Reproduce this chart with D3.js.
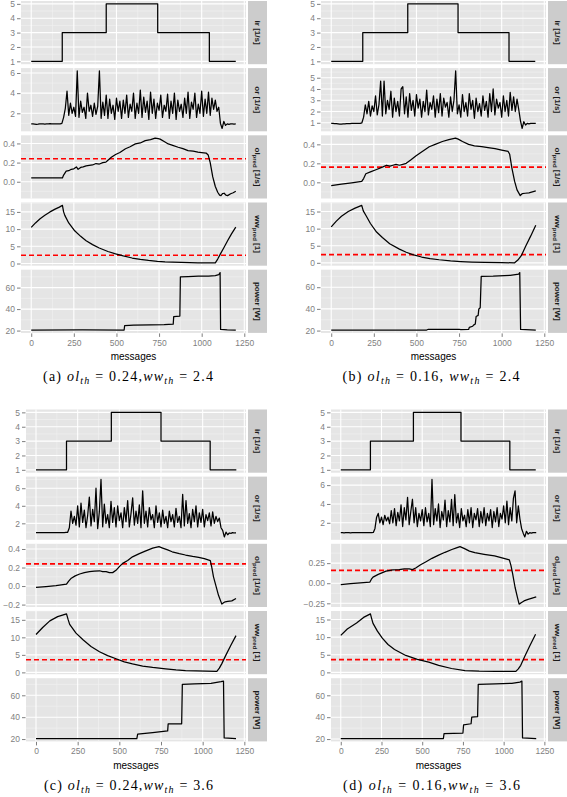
<!DOCTYPE html>
<html><head><meta charset="utf-8">
<script src="https://cdn.jsdelivr.net/npm/d3@7/dist/d3.min.js"></script>
<style>body{margin:0;background:#fff}</style>
</head><body>
<svg id="c" width="567" height="797"></svg>
<script>
// ---------------- DATA ----------------
const xTicks = [0, 250, 500, 750, 1000, 1250];
const stripLabels = [["ir", "", " [1/s]"], ["or", "", " [1/s]"], ["ol", "pred", " [1/s]"], ["ww", "pred", " [1]"], ["power", "", " [W]"]];
const orStep = 10; // "or" sampled every 10 messages

// input rate (step changes)
const irA = [[0,1],[182,3],[440,5],[742,3],[1045,1],[1200,1]];
const irB = [[0,1],[185,3],[449,5],[744,3],[1043,1],[1197,1]];
const irC = [[0,1],[183,3],[452,5],[750,3],[1045,1],[1202,1]];
const irD = [[0,1],[182,3],[446,5],[738,3],[1038,1],[1197,1]];

// output rate
const orA = [
 0.95,0.95,0.93,0.9,0.92,0.95,0.95,0.95,0.93,0.95,
 0.95,0.97,0.95,0.95,0.95,0.95,0.95,0.96,1.0,1.6,
 2.5,4.2,1.8,3.0,2.0,2.6,1.7,6.2,1.6,3.2,
 2.1,2.6,1.5,4.0,2.2,2.8,1.7,3.0,1.9,2.7,
 6.2,1.5,3.1,1.8,3.8,1.5,3.4,2.0,2.8,1.4,
 3.5,2.2,3.2,1.5,3.3,2.0,3.8,1.6,2.9,2.2,
 4.0,1.5,3.0,2.0,4.3,1.6,3.6,2.1,3.2,1.4,
 4.1,2.0,3.4,1.5,3.0,2.3,3.8,1.6,2.8,2.2,
 3.9,1.5,3.2,2.0,4.0,1.4,3.3,2.2,2.9,1.6,
 3.5,2.0,4.1,1.5,3.1,2.4,4.0,1.6,2.9,2.0,
 4.2,1.7,3.4,2.0,4.1,1.8,3.5,2.4,3.3,2.2,
 2.6,1.0,0.5,1.2,0.8,0.95,0.9,0.95,0.95,0.93,
 0.95];
const orB = [
 0.95,0.95,0.93,0.92,0.9,0.88,0.88,0.9,0.9,0.92,
 0.92,0.93,0.95,0.95,0.95,0.95,0.95,0.95,1.0,1.5,
 2.6,1.8,2.9,1.6,2.5,2.0,3.4,1.7,2.6,4.7,
 1.6,4.7,1.8,3.0,2.2,3.8,1.5,3.2,2.0,2.9,
 1.6,4.0,4.2,1.8,3.3,1.5,3.6,2.1,3.0,1.6,
 3.5,2.3,3.1,1.5,2.9,2.0,3.9,1.7,2.8,2.2,
 3.4,1.5,3.1,1.9,3.6,1.6,3.2,2.4,2.8,1.5,
 3.3,2.0,3.0,5.6,1.8,2.6,1.5,3.5,2.0,2.8,
 1.6,3.6,2.2,3.0,1.4,3.2,2.0,2.7,1.6,3.4,
 2.1,2.9,1.5,3.6,2.0,4.0,1.7,3.1,2.3,2.8,
 1.5,3.4,2.0,3.0,1.6,3.7,2.1,3.3,2.0,3.1,
 2.2,1.2,0.5,1.1,0.8,0.95,0.9,0.95,0.95,0.95,
 0.95];
const orC = [
 0.95,0.95,0.95,0.95,0.93,0.95,0.95,0.95,0.95,0.93,
 0.95,0.95,0.95,0.95,0.95,0.95,0.95,0.95,0.97,0.98,
 1.5,3.4,2.0,2.8,1.8,4.0,1.6,4.3,2.1,3.5,
 1.5,2.9,5.0,1.7,3.6,2.2,6.0,1.4,3.3,7.0,
 1.6,4.2,2.0,3.0,1.5,4.5,2.1,3.8,1.6,4.0,
 2.3,3.2,1.5,3.8,2.2,4.6,1.6,3.1,4.9,1.8,
 3.4,2.0,4.1,1.5,5.7,2.0,3.4,1.6,3.8,2.4,
 3.0,1.5,4.0,2.1,3.2,1.6,3.5,2.0,2.8,1.5,
 3.4,2.2,3.0,1.6,3.7,2.1,2.8,1.5,5.3,1.7,
 4.6,2.0,3.1,1.5,3.6,2.2,4.0,1.6,3.2,2.1,
 3.6,1.6,3.0,2.3,3.2,1.7,3.3,2.0,2.8,2.2,
 2.6,1.5,1.2,0.45,1.0,0.7,0.9,0.85,0.95,0.9,
 0.9];
const orD = [
 0.95,0.95,0.93,0.95,0.95,0.95,0.93,0.95,0.95,0.95,
 0.95,0.95,0.95,0.95,0.95,0.95,0.95,0.95,0.95,0.95,
 0.97,1.4,2.6,3.0,2.0,2.6,1.8,2.8,2.2,2.6,
 1.9,3.3,2.0,3.5,1.7,3.1,2.2,3.9,1.6,3.6,
 2.3,4.7,1.8,3.2,4.5,2.0,3.6,1.6,3.0,2.2,
 3.4,1.7,3.6,2.1,3.0,1.6,6.6,1.8,3.5,2.2,
 4.0,1.5,3.2,2.3,4.4,1.6,3.3,2.1,4.5,1.7,
 5.0,2.0,3.0,1.5,3.5,2.2,2.8,1.6,3.4,2.0,
 3.6,1.5,3.0,2.3,3.5,1.6,3.2,2.0,3.6,1.7,
 3.0,2.2,3.4,1.5,3.2,2.1,3.6,1.6,3.0,2.4,
 3.8,2.0,4.3,1.8,3.6,2.2,4.6,5.4,2.0,3.8,
 2.4,1.4,0.9,0.5,1.1,0.8,0.95,0.9,0.95,0.95,
 0.95];

// predicted overload
const olA = [[0,0.04],[183,0.04],[190,0.07],[205,0.11],[220,0.115],[235,0.13],[250,0.135],[265,0.155],[275,0.13],[290,0.15],[305,0.155],[322,0.165],[340,0.17],[360,0.175],[380,0.19],[400,0.185],[420,0.2],[438,0.205],[450,0.225],[470,0.255],[495,0.285],[520,0.305],[553,0.345],[580,0.365],[611,0.395],[640,0.405],[669,0.43],[700,0.44],[727,0.455],[745,0.45],[756,0.445],[780,0.42],[804,0.395],[830,0.38],[862,0.36],[890,0.345],[920,0.325],[950,0.32],[978,0.31],[1000,0.305],[1026,0.30],[1038,0.28],[1050,0.2],[1065,0.05],[1080,-0.05],[1094,-0.11],[1105,-0.14],[1113,-0.145],[1122,-0.125],[1132,-0.12],[1142,-0.14],[1152,-0.145],[1170,-0.125],[1185,-0.115],[1200,-0.10]];
const olB = [[0,-0.035],[60,-0.02],[120,-0.005],[179,0.01],[190,0.04],[203,0.09],[230,0.11],[266,0.135],[300,0.16],[324,0.18],[345,0.17],[362,0.18],[380,0.19],[400,0.18],[420,0.19],[440,0.2],[470,0.24],[498,0.28],[530,0.32],[575,0.375],[610,0.4],[652,0.43],[690,0.45],[729,0.465],[745,0.455],[770,0.43],[806,0.40],[840,0.385],[883,0.375],[920,0.365],[961,0.355],[1000,0.34],[1038,0.325],[1047,0.295],[1060,0.15],[1076,0.01],[1090,-0.08],[1109,-0.14],[1120,-0.12],[1138,-0.115],[1160,-0.11],[1180,-0.1],[1200,-0.09]];
const olC = [[0,-0.015],[60,-0.005],[120,0.005],[183,0.02],[195,0.05],[212,0.085],[235,0.11],[262,0.13],[290,0.145],[321,0.155],[350,0.16],[381,0.165],[400,0.155],[421,0.155],[440,0.145],[460,0.145],[480,0.17],[500,0.21],[520,0.245],[550,0.275],[579,0.315],[620,0.35],[659,0.38],[700,0.41],[738,0.425],[760,0.41],[790,0.39],[817,0.37],[860,0.35],[897,0.335],[940,0.32],[976,0.31],[1010,0.295],[1046,0.275],[1055,0.2],[1065,0.10],[1080,0.0],[1095,-0.1],[1115,-0.195],[1125,-0.18],[1135,-0.17],[1150,-0.165],[1175,-0.16],[1200,-0.135]];
const olD = [[0,-0.017],[60,-0.005],[120,0.005],[178,0.013],[188,0.05],[198,0.076],[230,0.11],[278,0.15],[320,0.165],[359,0.17],[390,0.18],[420,0.18],[440,0.17],[460,0.19],[490,0.23],[521,0.265],[560,0.31],[601,0.35],[640,0.385],[682,0.42],[710,0.44],[732,0.455],[760,0.43],[790,0.4],[823,0.38],[880,0.36],[944,0.34],[990,0.315],[1035,0.29],[1045,0.22],[1055,0.12],[1070,-0.05],[1085,-0.18],[1095,-0.26],[1110,-0.24],[1125,-0.22],[1150,-0.2],[1175,-0.185],[1200,-0.17]];

// predicted waiting work
const wwA = [[0,10.5],[25,11.8],[52,13.0],[80,14.0],[110,15.0],[140,15.8],[165,16.4],[183,16.9],[190,15.0],[197,14.0],[220,11.8],[255,9.5],[290,7.9],[322,6.6],[360,5.5],[399,4.5],[450,3.5],[495,2.8],[540,2.2],[592,1.6],[640,1.2],[688,0.9],[740,0.65],[785,0.5],[830,0.4],[881,0.3],[930,0.25],[978,0.2],[1030,0.2],[1080,0.2],[1094,1.3],[1110,2.8],[1130,4.6],[1152,6.6],[1175,8.6],[1200,10.6]];
const wwB = [[0,10.5],[30,12.2],[60,13.6],[100,15.0],[140,16.0],[179,16.8],[188,15.2],[203,13.9],[230,11.5],[266,9.0],[300,7.4],[343,5.6],[400,4.0],[440,3.1],[478,2.4],[530,1.7],[580,1.25],[633,0.9],[700,0.55],[760,0.35],[826,0.2],[900,0.1],[1000,0.05],[1076,0.0],[1095,0.8],[1115,2.1],[1140,4.8],[1170,7.8],[1200,11.0]];
const wwC = [[0,10.8],[40,12.8],[83,14.7],[130,15.9],[183,16.7],[192,15.2],[202,13.7],[240,11.2],[282,9.3],[330,7.4],[381,5.9],[430,4.8],[480,3.9],[530,3.0],[579,2.4],[640,1.8],[700,1.4],[778,1.0],[840,0.7],[897,0.5],[960,0.4],[1020,0.35],[1085,0.3],[1100,1.2],[1115,2.5],[1140,5.0],[1170,7.8],[1200,10.5]];
const wwD = [[0,10.5],[40,12.3],[97,14.0],[140,15.6],[182,16.6],[190,15.2],[198,13.9],[225,11.7],[255,9.7],[290,7.9],[330,6.5],[399,4.8],[470,3.7],[540,2.9],[601,2.0],[680,1.1],[763,0.5],[850,0.35],[950,0.3],[1075,0.3],[1090,1.0],[1105,2.0],[1130,4.6],[1160,7.5],[1196,10.8]];

// power consumption
const powerA = [[0,20.5],[300,20.6],[545,20.5],[548,24.5],[600,25],[700,25.3],[780,25.6],[833,26],[836,33],[872,33.5],[875,70],[920,70.3],[980,70.6],[1040,70.8],[1080,71.2],[1100,72],[1108,74],[1111,21],[1150,20.6],[1200,20.5]];
const powerB = [[0,20.5],[560,20.5],[570,21.2],[750,21.2],[760,20.8],[806,21],[810,23],[830,24],[835,25],[845,26],[850,33],[862,34],[866,40],[874,41],[880,70],[950,70.2],[1050,71],[1100,72],[1106,73.5],[1111,21],[1200,20.5]];
const powerC = [[0,20.5],[605,20.5],[610,24.5],[700,26],[790,27.5],[793,34],[874,34],[878,70],[950,70.5],[1050,71],[1110,72.5],[1125,73],[1129,21],[1200,20.5]];
const powerD = [[0,20.5],[630,20.5],[634,25],[750,25.5],[754,33],[800,34],[804,40],[840,40.5],[844,70],[950,70.5],[1050,71],[1100,72],[1112,73],[1116,21],[1200,20.5]];

// thresholds
const olThreshold = {a:0.24, b:0.16, c:0.24, d:0.16};
const wwThreshold = {a:2.4, b:2.4, c:3.6, d:3.6};

// y tick values
const irTicks = [1,2,3,4,5];
const orTicks = {a:[2,4,6], b:[1,2,3,4,5], c:[2,4,6], d:[2,4,6]};
const olTicks = {a:[0,0.2,0.4], b:[0,0.2,0.4], c:[-0.2,0,0.2,0.4], d:[-0.25,0,0.25]};
const wwTicks = [0,5,10,15];
const powerTicks = [20,40,60];

const captionLabels = {a:"(a)", b:"(b)", c:"(c)", d:"(d)"};
const captionSep = {a:",", b:", ", c:",", d:","};

// ---------------- LAYOUT ----------------
const layout = {
  a:{px0:21, px1:246, sx0:248, sx1:267, top:1, capX:128, capW:170},
  b:{px0:321, px1:546, sx0:548, sx1:567, top:1, capX:431, capW:177},
  c:{px0:26, px1:246, sx0:248, sx1:267, top:409.5, capX:128.5, capW:169},
  d:{px0:331, px1:546, sx0:548, sx1:567, top:409.5, capX:431.5, capW:177}
};
const panelOffsets = [0, 67.1, 134.3, 201.5, 268.7];
const panelH = 63.2;
const xDomain = [-60, 1260];
const SANS = "'Liberation Sans', Arial, Helvetica, sans-serif";
const SERIF = "'Liberation Serif', 'Times New Roman', serif";
const gridMinor = "#f2f2f2";

const svg = d3.select("#c");

function padDomain(vals){
  const e = d3.extent(vals);
  const p = (e[1]-e[0])*0.05;
  return [e[0]-p, e[1]+p];
}
function minorBreaks(major, dom){
  const step = major[1]-major[0];
  const all = [major[0]-step, ...major, major[major.length-1]+step];
  const res = [];
  for(let i=0;i<all.length-1;i++){const m=(all[i]+all[i+1])/2; if(m>dom[0]&&m<dom[1]) res.push(m);}
  return res;
}

function drawSub(key, series){
  const L = layout[key];
  const g = svg.append("g");
  const x = d3.scaleLinear().domain(xDomain).range([L.px0, L.px1]);
  const xMinor = minorBreaks(xTicks, xDomain);
  series.forEach((s, pi) => {
    const top = L.top + panelOffsets[pi];
    const dom = padDomain(s.data.map(d=>d[1]).concat(s.hline!=null?[s.hline]:[]));
    const y = d3.scaleLinear().domain(dom).range([top+panelH, top]);
    const pg = g.append("g");
    pg.append("rect").attr("x",L.px0).attr("y",top).attr("width",L.px1-L.px0).attr("height",panelH).attr("fill","#e5e5e5");
    // minor grid
    const yMinor = minorBreaks(s.ticks, dom);
    pg.selectAll(null).data(yMinor).enter().append("line")
      .attr("x1",L.px0).attr("x2",L.px1).attr("y1",d=>y(d)).attr("y2",d=>y(d))
      .attr("stroke",gridMinor).attr("stroke-width",0.6);
    pg.selectAll(null).data(xMinor).enter().append("line")
      .attr("y1",top).attr("y2",top+panelH).attr("x1",d=>x(d)).attr("x2",d=>x(d))
      .attr("stroke",gridMinor).attr("stroke-width",0.6);
    // major grid
    pg.selectAll(null).data(s.ticks.filter(t=>t>=dom[0]&&t<=dom[1])).enter().append("line")
      .attr("x1",L.px0).attr("x2",L.px1).attr("y1",d=>y(d)).attr("y2",d=>y(d))
      .attr("stroke","#fff").attr("stroke-width",1.1);
    pg.selectAll(null).data(xTicks).enter().append("line")
      .attr("y1",top).attr("y2",top+panelH).attr("x1",d=>x(d)).attr("x2",d=>x(d))
      .attr("stroke","#fff").attr("stroke-width",1.1);
    // y axis
    const ax = d3.axisLeft(y).tickValues(s.ticks).tickFormat(d3.format(s.fmt)).tickSize(3.5).tickPadding(2);
    const ag = pg.append("g").attr("transform",`translate(${L.px0-0.5},0)`).call(ax);
    ag.select(".domain").remove();
    ag.selectAll("line").attr("stroke","#7f7f7f");
    ag.selectAll("text").attr("fill","#7f7f7f").style("font-size","8.5px").style("font-family",SANS);
    // threshold
    if(s.hline!=null){
      pg.append("line").attr("x1",L.px0).attr("x2",L.px1).attr("y1",y(s.hline)).attr("y2",y(s.hline))
        .attr("stroke","#ff0000").attr("stroke-width",1.7).attr("stroke-dasharray","5,3");
    }
    // data line
    const line = d3.line().x(d=>x(d[0])).y(d=>y(d[1])).curve(s.step?d3.curveStepAfter:d3.curveLinear);
    pg.append("path").attr("d",line(s.data)).attr("fill","none").attr("stroke","#000")
      .attr("stroke-width",1.25).attr("stroke-linejoin","round");
    // strip
    pg.append("rect").attr("x",L.sx0).attr("y",top).attr("width",L.sx1-L.sx0).attr("height",panelH).attr("fill","#cccccc");
    const lab = stripLabels[pi];
    const t = pg.append("text").attr("transform",`translate(${(L.sx0+L.sx1)/2},${top+panelH/2}) rotate(90)`)
      .attr("text-anchor","middle").attr("dy","0.35em")
      .style("font-family",SANS).style("font-size","8px").style("font-weight","bold").attr("fill","#1a1a1a");
    t.append("tspan").text(lab[0]);
    if(lab[1]){
      t.append("tspan").attr("dy","2").style("font-size","6px").text(lab[1]);
      t.append("tspan").attr("dy","-2").text(lab[2]);
    } else {
      t.append("tspan").text(lab[2]);
    }
  });
  // x axis
  const bottom = L.top + panelOffsets[4] + panelH;
  const xa = d3.axisBottom(x).tickValues(xTicks).tickFormat(d3.format("d")).tickSize(3.5).tickPadding(3);
  const xg = g.append("g").attr("transform",`translate(0,${bottom+0.5})`).call(xa);
  xg.select(".domain").remove();
  xg.selectAll("line").attr("stroke","#7f7f7f");
  xg.selectAll("text").attr("fill","#7f7f7f").style("font-size","8.5px").style("font-family",SANS);
  g.append("text").attr("x",(L.px0+L.px1)/2).attr("y",bottom+27.5).attr("text-anchor","middle")
    .style("font-family",SANS).style("font-size","10px").attr("fill","#000").text("messages");
  // caption
  const c = g.append("text").attr("x",L.capX).attr("y",bottom+48.5).attr("text-anchor","middle")
    .style("font-family",SERIF).style("font-size","14px").attr("fill","#000")
    .attr("textLength",L.capW).attr("lengthAdjust","spacing");
  c.append("tspan").text(captionLabels[key]+" ");
  c.append("tspan").style("font-style","italic").text("ol");
  c.append("tspan").attr("dy","3").style("font-style","italic").style("font-size","10px").text("th");
  c.append("tspan").attr("dy","-3").text(" = "+olThreshold[key]+captionSep[key]);
  c.append("tspan").style("font-style","italic").text("ww");
  c.append("tspan").attr("dy","3").style("font-style","italic").style("font-size","10px").text("th");
  c.append("tspan").attr("dy","-3").text(" = "+wwThreshold[key]);
}

function orPoints(arr){ return arr.map((v,i)=>[i*orStep, v]); }

const subs = {
  a:{ir:irA, or:orA, ol:olA, ww:wwA, pw:powerA},
  b:{ir:irB, or:orB, ol:olB, ww:wwB, pw:powerB},
  c:{ir:irC, or:orC, ol:olC, ww:wwC, pw:powerC},
  d:{ir:irD, or:orD, ol:olD, ww:wwD, pw:powerD}
};
Object.keys(subs).forEach(k=>{
  const S = subs[k];
  drawSub(k, [
    {data:S.ir, ticks:irTicks, fmt:"d", step:true},
    {data:orPoints(S.or), ticks:orTicks[k], fmt:"d"},
    {data:S.ol, ticks:olTicks[k], fmt:(k==="d"?".2f":".1f"), hline:olThreshold[k]},
    {data:S.ww, ticks:wwTicks, fmt:"d", hline:wwThreshold[k]},
    {data:S.pw, ticks:powerTicks, fmt:"d"}
  ]);
});
</script>
</body></html>
